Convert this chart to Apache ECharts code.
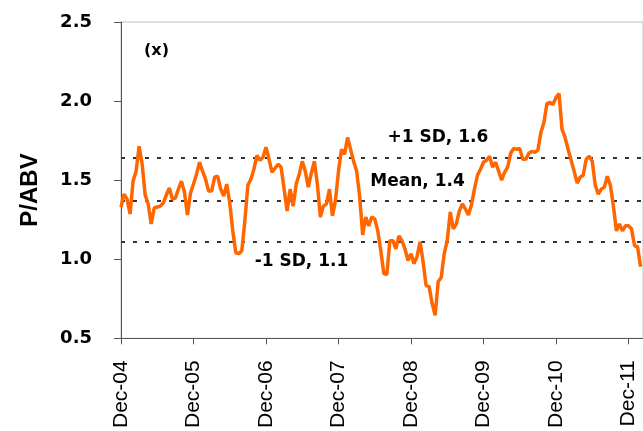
<!DOCTYPE html>
<html>
<head>
<meta charset="utf-8">
<script src="https://cdn.jsdelivr.net/npm/echarts@6/dist/echarts.min.js"></script>
<style>
  html, body { margin: 0; padding: 0; background: #fff; }
  #chart { width: 643px; height: 431px; }
</style>
</head>
<body>
<div id="chart"></div>
<script>
// P/ABV, half-monthly readings starting Dec-04
var pabv = [
  1.330, 1.412, 1.380, 1.286, 1.494, 1.557, 1.714, 1.601, 1.406, 1.349,
  1.223, 1.324, 1.330, 1.336, 1.355, 1.406, 1.450, 1.380, 1.387, 1.443,
  1.494, 1.425, 1.280, 1.418, 1.475, 1.538, 1.613, 1.557, 1.506, 1.431,
  1.431, 1.519, 1.525, 1.443, 1.399, 1.475, 1.355, 1.179, 1.041, 1.035,
  1.054, 1.242, 1.469, 1.506, 1.569, 1.657, 1.626, 1.645, 1.708, 1.632,
  1.550, 1.575, 1.601, 1.582, 1.443, 1.305, 1.443, 1.336, 1.475, 1.538,
  1.619, 1.557, 1.456, 1.544, 1.619, 1.475, 1.267, 1.336, 1.349, 1.443,
  1.274, 1.374, 1.557, 1.695, 1.663, 1.770, 1.695, 1.619, 1.557, 1.399,
  1.154, 1.267, 1.211, 1.267, 1.255, 1.179, 1.053, 0.909, 0.903, 1.117,
  1.117, 1.066, 1.148, 1.117, 1.066, 0.991, 1.035, 0.972, 1.016, 1.110,
  0.984, 0.833, 0.827, 0.720, 0.645, 0.858, 0.884, 1.035, 1.117, 1.299,
  1.192, 1.223, 1.305, 1.349, 1.318, 1.280, 1.343, 1.443, 1.531, 1.569,
  1.613, 1.626, 1.651, 1.582, 1.613, 1.557, 1.500, 1.550, 1.582, 1.670,
  1.701, 1.695, 1.701, 1.632, 1.632, 1.670, 1.682, 1.676, 1.689, 1.802,
  1.865, 1.984, 1.991, 1.978, 2.022, 2.047, 1.821, 1.770, 1.695, 1.626,
  1.557, 1.481, 1.519, 1.531, 1.632, 1.651, 1.619, 1.468, 1.412, 1.443,
  1.456, 1.525, 1.468, 1.336, 1.179, 1.223, 1.179, 1.211, 1.211, 1.192,
  1.085, 1.079, 0.953
];
var stepsPerYear = 24;
var tickLabels = ['Dec-04', 'Dec-05', 'Dec-06', 'Dec-07', 'Dec-08', 'Dec-09', 'Dec-10', 'Dec-11'];
var bandValues = [1.64, 1.37, 1.11];
var notes = [
  { text: '+1 SD, 1.6', x: 4.37, y: 1.77 },
  { text: 'Mean, 1.4', x: 4.09, y: 1.494 },
  { text: '-1 SD, 1.1', x: 2.49, y: 0.986 }
];

var lineData = pabv.map(function (v, i) { return [i / stepsPerYear, v]; });

var option = {
  animation: false,
  title: {
    text: '(x)',
    left: 139,
    top: 38,
    textStyle: { fontFamily: 'DejaVu Sans', fontSize: 16, fontWeight: 'bold', color: '#000' }
  },
  graphic: [{
    type: 'text',
    x: 30,
    y: 190,
    rotation: Math.PI / 2,
    style: {
      text: 'P/ABV',
      fontFamily: 'Liberation Sans',
      fontSize: 24,
      fontWeight: 'bold',
      fill: '#000',
      align: 'center',
      verticalAlign: 'middle'
    }
  }],
  grid: {
    left: 121, top: 22, width: 525, height: 318,
    show: true, borderColor: '#c0c0c0', borderWidth: 1
  },
  xAxis: {
    type: 'value',
    min: 0,
    max: 7.2,
    interval: 1,
    axisLine: { lineStyle: { color: '#555', width: 1 } },
    axisTick: { show: true, length: 6, lineStyle: { color: '#555' } },
    splitLine: { show: false },
    axisLabel: {
      rotate: 90,
      margin: 22,
      fontFamily: 'Liberation Sans',
      fontSize: 21,
      color: '#000',
      showMaxLabel: false,
      formatter: function (v) {
        return Number.isInteger(v) && tickLabels[v] ? tickLabels[v] : '';
      }
    }
  },
  yAxis: {
    type: 'value',
    min: 0.5,
    max: 2.5,
    interval: 0.5,
    axisLine: { show: true, lineStyle: { color: '#555', width: 1 } },
    axisTick: { show: true, length: 7, lineStyle: { color: '#555' } },
    splitLine: { show: false },
    axisLabel: {
      margin: 29,
      fontFamily: 'DejaVu Sans',
      fontSize: 18,
      fontWeight: 'bold',
      color: '#000',
      formatter: function (v) { return v.toFixed(1); }
    }
  },
  series: [{
    type: 'line',
    data: lineData,
    showSymbol: false,
    lineStyle: { color: '#ff6600', width: 3.5 },
    z: 3,
    markLine: {
      silent: true,
      symbol: ['none', 'none'],
      label: { show: false },
      lineStyle: { color: '#333', width: 2, type: [4, 8] },
      data: bandValues.map(function (v) { return { yAxis: v }; }),
      z: 2
    },
    markPoint: {
      silent: true,
      symbol: 'circle',
      symbolSize: 1,
      itemStyle: { color: 'rgba(0,0,0,0)' },
      label: {
        show: true,
        position: 'inside',
        fontFamily: 'DejaVu Sans',
        fontSize: 17,
        fontWeight: 'bold',
        color: '#000',
        formatter: function (p) { return p.name; }
      },
      data: notes.map(function (n) { return { name: n.text, coord: [n.x, n.y] }; })
    }
  }]
};

var myChart = echarts.init(document.getElementById('chart'));
myChart.setOption(option);
</script>
</body>
</html>
